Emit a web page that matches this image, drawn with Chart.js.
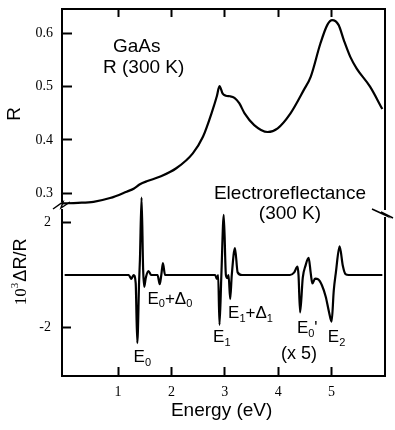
<!DOCTYPE html>
<html>
<head>
<meta charset="utf-8">
<script src="https://cdn.jsdelivr.net/npm/chart.js@4/dist/chart.umd.min.js"></script>
<style>
  html, body { margin: 0; padding: 0; background: #fff; }
  #wrap { width: 395px; height: 430px; }
</style>
</head>
<body>
<div id="wrap"><canvas id="gaas" width="395" height="430"></canvas></div>
<script>
// reflectance of GaAs at 300 K
const rEnergy = [-0.05, 0.25, 0.54, 0.85, 1.16, 1.30, 1.41, 1.55, 1.78, 2.09, 2.40, 2.59, 2.77, 2.85, 2.90, 2.96, 3.02, 3.10, 3.18, 3.27, 3.37, 3.55, 3.80, 3.99, 4.23, 4.48, 4.61, 4.79, 4.92, 5.01, 5.13, 5.23, 5.35, 5.47, 5.72, 5.95];
const rValues = [0.281, 0.282, 0.284, 0.291, 0.303, 0.309, 0.317, 0.323, 0.331, 0.347, 0.375, 0.406, 0.456, 0.482, 0.501, 0.487, 0.483, 0.482, 0.479, 0.469, 0.450, 0.428, 0.415, 0.422, 0.450, 0.494, 0.519, 0.581, 0.616, 0.625, 0.616, 0.587, 0.556, 0.534, 0.500, 0.458];

// electroreflectance, 10^3 dR/R (part above 4 eV is x5)
const erEnergy = [0.00, 1.20, 1.25, 1.29, 1.33, 1.36, 1.395, 1.41, 1.44, 1.47, 1.49, 1.52, 1.57, 1.62, 1.74, 1.78, 1.81, 1.84, 1.88,
  2.82, 2.85, 2.875, 2.90, 2.935, 2.98, 3.02, 3.05, 3.07, 3.10, 3.13, 3.19, 3.24, 3.32,
  4.22, 4.30, 4.36, 4.38, 4.41, 4.46, 4.51, 4.57, 4.61, 4.64, 4.69, 4.75, 4.82, 4.89, 4.95, 5.00, 5.04, 5.08, 5.15, 5.21, 5.26, 5.32, 5.95];
const erValues = [0, 0, -0.15, 0, -0.3, -2.6, -0.2, 0.6, 2.95, 0.2, -0.45, -0.1, 0.15, 0, 0, -0.35, 0, 0.45, 0,
  0, -0.15, 0, -1.9, 0, 2.3, 0, -0.12, 0, -0.92, 0, 1.03, 0.1, 0,
  0, 0.1, 0.32, 0, -1.43, -0.1, 0.35, 0.65, 0.05, -0.32, -0.14, -0.17, -0.4, -0.83, -1.4, -1.78, -0.6, 0.1, 1.09, 0.35, 0.03, 0, 0];

const xTicks = [1, 2, 3, 4, 5];
const rTicks = [0.3, 0.4, 0.5, 0.6];
const erTicks = [2, -2];

const sans = '"Liberation Sans", Arial, sans-serif';
const serif = '"Liberation Serif", "Times New Roman", serif';

function toPoints(xs, ys) {
  return xs.map((e, i) => ({ x: e, y: ys[i] }));
}

// no extra room for half labels, the frame is placed by hand
function noPad(s) {
  s.paddingTop = 0;
  s.paddingBottom = 0;
  s.paddingLeft = 0;
  s.paddingRight = 0;
}

// tick marks pointing into the plot (negative length)
function inward(len) {
  return { display: true, drawOnChartArea: false, drawTicks: true, tickLength: -len, tickWidth: 2, tickColor: '#000' };
}

// text with subscripts, parts = [[text, kind]]
function rich(ctx, x, y, parts, size) {
  let cx = x;
  parts.forEach(([t, kind]) => {
    const s = kind ? Math.round(size * 0.62) : size;
    const dy = kind === 'sub' ? size * 0.22 : 0;
    ctx.font = s + 'px ' + sans;
    ctx.fillText(t, cx, y + dy);
    cx += ctx.measureText(t).width;
  });
}

const frameAndText = {
  id: 'frameAndText',
  afterDraw(chart) {
    const { ctx, chartArea: a, scales } = chart;
    const x = scales.x, yR = scales.yR, yER = scales.yER;
    const seg = (x1, y1, x2, y2) => { ctx.beginPath(); ctx.moveTo(x1, y1); ctx.lineTo(x2, y2); ctx.stroke(); };
    ctx.save();
    ctx.strokeStyle = '#000';
    ctx.fillStyle = '#000';
    ctx.lineWidth = 2;

    seg(a.left - 1, a.top, a.right + 1, a.top);
    seg(a.left - 1, a.bottom, a.right + 1, a.bottom);

    // left axis, broken between the panels
    const cut = yR.bottom;
    seg(a.left, a.top, a.left, cut - 3);
    seg(a.left, cut + 4, a.left, a.bottom);
    // right axis, break a bit lower
    seg(a.right, a.top, a.right, cut + 5);
    seg(a.right, cut + 12, a.right, a.bottom);

    ctx.lineWidth = 1.5;
    ctx.beginPath();
    ctx.moveTo(a.left - 9, cut + 4);
    ctx.lineTo(a.left + 1, cut - 3);
    ctx.lineTo(a.left - 1, cut + 3);
    ctx.lineTo(a.left + 8, cut - 3);
    ctx.stroke();
    ctx.beginPath();
    ctx.moveTo(a.right - 13, cut + 4);
    ctx.lineTo(a.right, cut + 10);
    ctx.lineTo(a.right - 4, cut + 7);
    ctx.lineTo(a.right + 8, cut + 13);
    ctx.stroke();

    // axis titles
    ctx.textAlign = 'center';
    ctx.textBaseline = 'middle';
    ctx.font = '19px ' + sans;
    ctx.fillText('Energy (eV)', x.getPixelForValue(2.94), 411);
    ctx.save();
    ctx.translate(15, yR.getPixelForValue(0.449));
    ctx.rotate(-Math.PI / 2);
    ctx.fillText('R', 0, 0);
    ctx.restore();

    ctx.save();
    ctx.translate(26, yER.getPixelForValue(-1.15));
    ctx.rotate(-Math.PI / 2);
    ctx.textAlign = 'left';
    ctx.textBaseline = 'alphabetic';
    ctx.font = '17px ' + serif;
    ctx.fillText('10', 0, 0);
    let w = ctx.measureText('10').width;
    ctx.font = '11px ' + serif;
    ctx.fillText('3', w, -8);
    w += ctx.measureText('3').width + 1;
    ctx.font = '18px ' + sans;
    ctx.fillText('\u0394R/R', w, 0);
    ctx.restore();

    // panel captions
    ctx.font = '19px ' + sans;
    ctx.fillText('GaAs', x.getPixelForValue(1.35), yR.getPixelForValue(0.5745));
    ctx.fillText('R (300 K)', x.getPixelForValue(1.48), yR.getPixelForValue(0.536));
    ctx.fillText('Electroreflectance', x.getPixelForValue(4.22), yR.getPixelForValue(0.3));
    ctx.fillText('(300 K)', x.getPixelForValue(4.22), yER.getPixelForValue(2.35));
    ctx.font = '18px ' + sans;
    ctx.fillText('(x 5)', x.getPixelForValue(4.39), yER.getPixelForValue(-3.0));

    // transition labels
    ctx.textAlign = 'left';
    ctx.textBaseline = 'alphabetic';
    const lab = (e, v, parts) => rich(ctx, x.getPixelForValue(e), yER.getPixelForValue(v), parts, 17);
    lab(1.29, -3.32, [['E'], ['0', 'sub']]);
    lab(1.55, -1.09, [['E'], ['0', 'sub'], ['+'], ['\u0394'], ['0', 'sub']]);
    lab(2.78, -2.56, [['E'], ['1', 'sub']]);
    lab(3.06, -1.64, [['E'], ['1', 'sub'], ['+'], ['\u0394'], ['1', 'sub']]);
    lab(4.35, -2.21, [['E'], ['0', 'sub'], ["'"]]);
    lab(4.93, -2.56, [['E'], ['2', 'sub']]);
    ctx.restore();
  }
};

const ctx = document.getElementById('gaas');

new Chart(ctx, {
  type: 'line',
  data: {
    datasets: [
      {
        label: 'R',
        data: toPoints(rEnergy, rValues),
        yAxisID: 'yR',
        borderColor: '#000',
        borderWidth: 2.2,
        pointRadius: 0,
        cubicInterpolationMode: 'monotone',
        borderJoinStyle: 'round',
        clip: false,
        fill: false,
      },
      {
        label: 'ER',
        data: toPoints(erEnergy, erValues),
        yAxisID: 'yER',
        borderColor: '#000',
        borderWidth: 2.2,
        pointRadius: 0,
        cubicInterpolationMode: 'monotone',
        borderJoinStyle: 'round',
        clip: false,
        fill: false,
      },
    ],
  },
  options: {
    responsive: false,
    animation: false,
    layout: { padding: { left: 10, right: 10, top: 9, bottom: 0 } },
    plugins: { legend: { display: false }, tooltip: { enabled: false } },
    scales: {
      x: {
        type: 'linear',
        min: -0.05,
        max: 6,
        afterFit: s => { s.height = 54; noPad(s); },
        afterBuildTicks: s => { s.ticks = xTicks.map(v => ({ value: v })); },
        grid: inward(9),
        border: { display: false },
        ticks: { font: { family: serif, size: 14 }, color: '#000', padding: 17, maxRotation: 0, autoSkip: false },
      },
      xTop: {
        type: 'linear',
        position: 'top',
        min: -0.05,
        max: 6,
        afterFit: s => { s.height = 0; noPad(s); },
        afterBuildTicks: s => { s.ticks = xTicks.map(v => ({ value: v })); },
        grid: inward(8),
        border: { display: false },
        ticks: { display: false },
      },
      yR: {
        type: 'linear',
        position: 'left',
        stack: 'left',
        stackWeight: 196,
        weight: 2,
        min: 0.278,
        max: 0.6458,
        afterFit: s => { s.width = 52; noPad(s); },
        afterBuildTicks: s => { s.ticks = rTicks.map(v => ({ value: v })); },
        grid: inward(10),
        border: { display: false },
        ticks: { font: { family: serif, size: 14 }, color: '#000', padding: 19, callback: v => v.toFixed(1) },
      },
      yER: {
        type: 'linear',
        position: 'left',
        stack: 'left',
        stackWeight: 171,
        weight: 1,
        min: -3.855,
        max: 2.672,
        afterFit: s => { s.width = 52; noPad(s); },
        afterBuildTicks: s => { s.ticks = erTicks.map(v => ({ value: v })); },
        grid: inward(9),
        border: { display: false },
        ticks: { font: { family: serif, size: 14 }, color: '#000', padding: 20, callback: v => String(v) },
      },
    },
  },
  plugins: [frameAndText],
});
</script>
</body>
</html>
